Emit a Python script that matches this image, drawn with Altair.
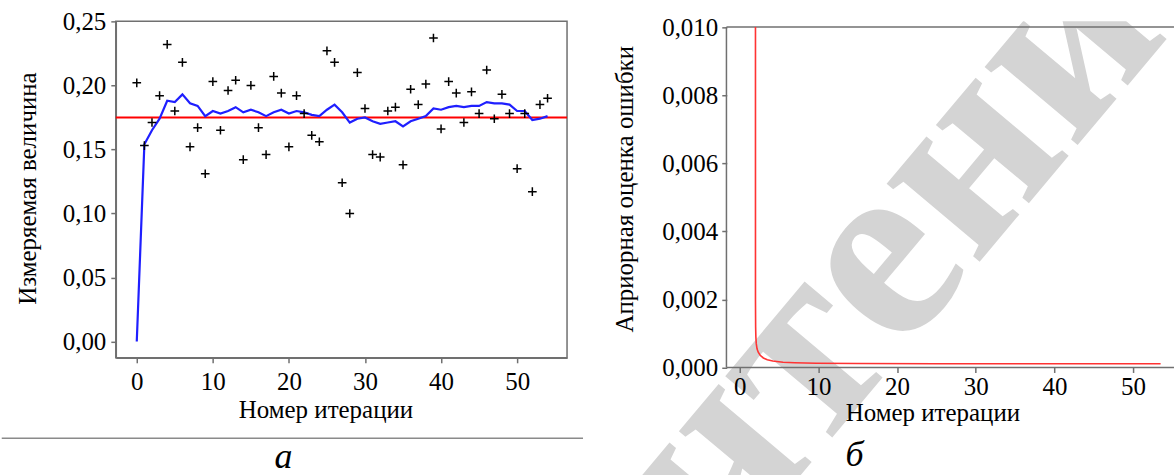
import altair as alt
import pandas as pd

# ---------------- data ----------------
iterations = list(range(55))
measured = [0.202, 0.153, 0.171, 0.192, 0.232, 0.180, 0.218, 0.152, 0.167, 0.131,
            0.203, 0.165, 0.196, 0.204, 0.142, 0.200, 0.167, 0.146, 0.207, 0.194,
            0.152, 0.192, 0.178, 0.161, 0.156, 0.227, 0.218, 0.124, 0.100, 0.210,
            0.182, 0.146, 0.144, 0.180, 0.183, 0.138, 0.197, 0.185, 0.201, 0.237,
            0.166, 0.203, 0.194, 0.171, 0.195, 0.178, 0.212, 0.174, 0.193, 0.178,
            0.135, 0.178, 0.117, 0.185, 0.190]
estimate = [0.000, 0.154, 0.165, 0.174, 0.188, 0.187, 0.193, 0.186, 0.184, 0.176,
            0.180, 0.178, 0.180, 0.183, 0.179, 0.181, 0.179, 0.176, 0.179, 0.181,
            0.178, 0.180, 0.179, 0.177, 0.176, 0.181, 0.185, 0.179, 0.171, 0.174,
            0.175, 0.172, 0.170, 0.171, 0.172, 0.168, 0.172, 0.174, 0.176, 0.182,
            0.181, 0.183, 0.184, 0.183, 0.184, 0.184, 0.187, 0.186, 0.186, 0.185,
            0.180, 0.180, 0.173, 0.174, 0.176]
true_level = [0.175]

err_iter = [2.00, 2.00, 2.00, 2.02, 2.05, 2.10, 2.20, 2.35, 2.60, 3.00, 3.50,
            4.20, 5.50, 7.00, 9.70, 15.0, 25.0, 35.0, 45.0, 53.5]
err_value = [0.0100, 0.0030, 0.0020, 0.0012, 0.0009, 0.0007, 0.00055, 0.00045,
             0.00036, 0.00028, 0.00023, 0.00019, 0.000155, 0.00014, 0.000126,
             0.000118, 0.000112, 0.00011, 0.000109, 0.000108]

x_ticks = [0, 10, 20, 30, 40, 50]
y_ticks_a = [0.0, 0.05, 0.10, 0.15, 0.20, 0.25]
y_ticks_b = [0.0, 0.002, 0.004, 0.006, 0.008, 0.010]

x_title = "Номер итерации"
y_title_a = "Измеряемая величина"
y_title_b = "Априорная оценка ошибки"
caption_a = "а"
caption_b = "б"
watermark = "чтени"

FONT = "Times New Roman"
GRAY = "#707070"
FS = 25

# ---------------- left panel ----------------
df_a = pd.DataFrame({"iter": iterations, "meas": measured, "est": estimate})
df_true = pd.DataFrame({"v": true_level})

common_axis = dict(labelFont=FONT, labelFontSize=FS, labelColor="black",
                   labelFontWeight="normal",
                   titleFont=FONT, titleFontSize=FS, titleFontWeight="normal",
                   titleColor="black", tickColor=GRAY, tickWidth=1.5, tickSize=5,
                   domainColor=GRAY, domainWidth=1.5, grid=False,
                   labelFlush=False, labelOverlap=False)

xa_scale = alt.Scale(domain=[-2.756, 56.56], nice=False, zero=False)
ya_scale = alt.Scale(domain=[-0.0127, 0.25], nice=False, zero=False)

xa_axis = alt.Axis(values=x_ticks, title=x_title, labelPadding=7,
                   titleX=210, titleY=52, titleAlign="center", titleBaseline="middle",
                   **common_axis)
ya_axis = alt.Axis(values=y_ticks_a, title=y_title_a, labelPadding=5,
                   labelExpr="replace(format(datum.value, '.2f'), '.', ',')",
                   titleAngle=270, titleX=-88, titleY=167, titleAlign="center",
                   titleBaseline="middle", **common_axis)

xa = alt.X("iter:Q", scale=xa_scale, axis=xa_axis)

red_rule = alt.Chart(df_true).mark_rule(color="#ff0000", strokeWidth=2).encode(
    y=alt.Y("v:Q", scale=ya_scale, axis=ya_axis))
blue_line = alt.Chart(df_a).mark_line(color="#1f1fff", strokeWidth=2.2).encode(
    x=xa, y=alt.Y("est:Q", scale=ya_scale, axis=ya_axis))
crosses = alt.Chart(df_a).mark_point(shape="M-1,0L1,0M0,-1L0,1", filled=False,
                                     stroke="black", strokeWidth=1.5, size=75,
                                     opacity=1).encode(
    x=xa, y=alt.Y("meas:Q", scale=ya_scale, axis=ya_axis))

anchor = alt.Chart(df_true).mark_rule(color="white", strokeWidth=1).encode(
    x=alt.value(-110), y=alt.value(-18.8), y2=alt.value(-17))
sep_line = alt.Chart(df_true).mark_rule(color="#8a8a8a", strokeWidth=1.5).encode(
    x=alt.value(-114.25), x2=alt.value(468), y=alt.value(417.7))
cap_a = alt.Chart(df_true).mark_text(font=FONT, fontSize=36, fontStyle="italic",
                                     align="center", baseline="middle",
                                     color="black").encode(
    x=alt.value(168), y=alt.value(436), text=alt.value(caption_a))

left = alt.layer(anchor, sep_line, cap_a, red_rule, blue_line, crosses).properties(
    width=452, height=337,
    view=alt.ViewBackground(stroke=GRAY, strokeWidth=1.5))

# ---------------- right panel ----------------
W_B, H_B = 536, 455.5
xb_scale = alt.Scale(domain=[-12.69, 55.33], nice=False, zero=False)
yb_scale = alt.Scale(domain=[-0.00319, 0.010167], nice=False, zero=False)

xb_axis = alt.Axis(values=x_ticks, title=x_title, labelPadding=2, offset=-108.8,
                   domain=False, zindex=1,
                   titleX=293, titleY=45, titleAlign="center", titleBaseline="middle",
                   **common_axis)
yb_axis = alt.Axis(values=y_ticks_b, title=y_title_b, labelPadding=4, offset=-87,
                   domain=False, zindex=1,
                   labelExpr="replace(format(datum.value, '.3f'), '.', ',')",
                   titleAngle=270, titleX=-102, titleY=167.7, titleAlign="center",
                   titleBaseline="middle", **common_axis)

df_err = pd.DataFrame({"k": list(range(len(err_iter))), "iter": err_iter, "err": err_value})

frame_df = pd.DataFrame({
    "x1": [-1.69, -1.69, -1.69],
    "x2": [55.2, -1.69, 55.2],
    "y1": [0.010, 0.0, 0.0],
    "y2": [0.010, 0.010, 0.0],
})

wm = alt.Chart(df_true).mark_text(clip=True, angle=310, fontSize=265, font=FONT,
                                  fontWeight="bold", color="#d4d4d4",
                                  align="center", baseline="middle").encode(
    x=alt.value(245), y=alt.value(230), text=alt.value(watermark))

frame = alt.Chart(frame_df).mark_rule(color=GRAY, strokeWidth=1.5).encode(
    x=alt.X("x1:Q", scale=xb_scale, axis=xb_axis), x2="x2:Q",
    y=alt.Y("y1:Q", scale=yb_scale, axis=yb_axis), y2="y2:Q")

err_line = alt.Chart(df_err).mark_line(color="#ff3333", strokeWidth=1.6).encode(
    x=alt.X("iter:Q", scale=xb_scale, axis=xb_axis),
    y=alt.Y("err:Q", scale=yb_scale, axis=yb_axis),
    order="k:Q")

cap_b = alt.Chart(df_true).mark_text(font=FONT, fontSize=36, fontStyle="italic",
                                     align="center", baseline="middle",
                                     color="black").encode(
    x=alt.value(215), y=alt.value(434), text=alt.value(caption_b))

right = alt.layer(wm, frame, err_line, cap_b).properties(
    width=W_B, height=H_B,
    view=alt.ViewBackground(stroke="transparent"))

chart = alt.hconcat(left, right, spacing=73, bounds="flush").properties(
    padding={"left": 0, "top": 0, "right": 0, "bottom": 0},
    background="white",
).configure_view(stroke="transparent").configure_axis(
    labelFont=FONT, titleFont=FONT).configure_text(font=FONT)

chart.save("out.html", embed_options={"renderer": "svg", "actions": False})
